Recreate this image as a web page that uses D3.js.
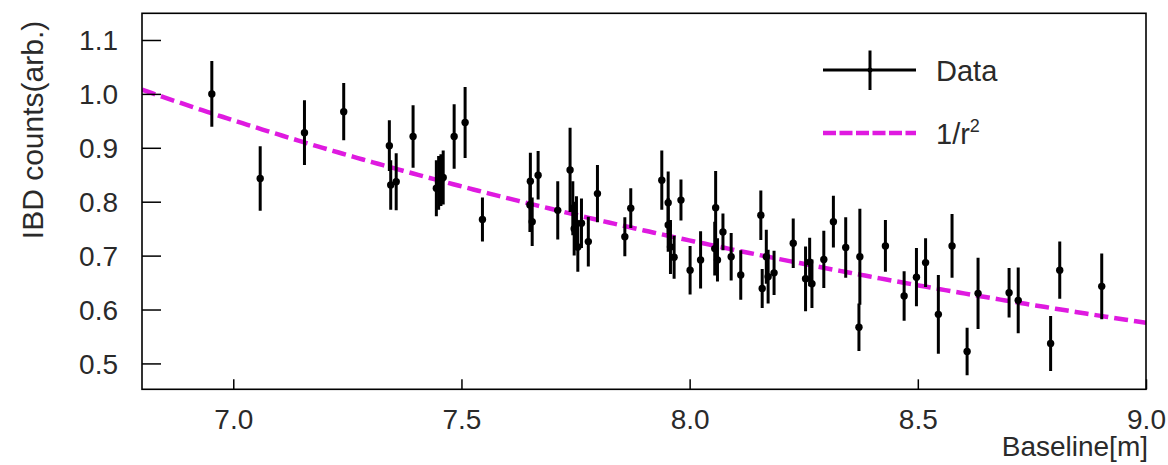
<!DOCTYPE html>
<html>
<head>
<meta charset="utf-8">
<script src="https://cdn.jsdelivr.net/npm/d3@7"></script>
<style>
  html, body { margin: 0; padding: 0; background: #fff; }
  svg { display: block; }
  text { font-family: "Liberation Sans", Arial, sans-serif; fill: #2a2a2a; }
</style>
</head>
<body>
<svg id="chart" width="1168" height="465"></svg>
<script>
// ---- data ----
const baseline = [6.953, 7.059, 7.156, 7.242, 7.342, 7.345, 7.357, 7.394, 7.445, 7.450, 7.455, 7.460,
  7.484, 7.508, 7.546, 7.651, 7.650, 7.655, 7.668, 7.711, 7.738, 7.744, 7.747, 7.755, 7.752, 7.763,
  7.778, 7.798, 7.858, 7.871, 7.939, 7.953, 7.953, 7.958, 7.966, 7.981, 8.001, 8.024, 8.057, 8.055,
  8.061, 8.073, 8.091, 8.112, 8.156, 8.159, 8.168, 8.172, 8.185, 8.227, 8.254, 8.263, 8.268, 8.294,
  8.315, 8.342, 8.373, 8.371, 8.429, 8.470, 8.497, 8.517, 8.545, 8.575, 8.608, 8.632, 8.700, 8.720,
  8.791, 8.811, 8.903];
const counts = [1.000, 0.843, 0.928, 0.967, 0.904, 0.831, 0.837, 0.921, 0.825, 0.835, 0.840, 0.845,
  0.921, 0.947, 0.767, 0.838, 0.794, 0.763, 0.849, 0.784, 0.859, 0.788, 0.750, 0.716, 0.760, 0.760,
  0.726, 0.815, 0.735, 0.788, 0.840, 0.798, 0.757, 0.716, 0.697, 0.803, 0.673, 0.692, 0.789, 0.713,
  0.692, 0.744, 0.698, 0.664, 0.775, 0.639, 0.698, 0.661, 0.668, 0.723, 0.657, 0.688, 0.648, 0.693,
  0.763, 0.715, 0.698, 0.567, 0.718, 0.625, 0.660, 0.687, 0.591, 0.718, 0.522, 0.630, 0.631, 0.617,
  0.537, 0.673, 0.643];
const errors = [0.061, 0.060, 0.060, 0.053, 0.047, 0.046, 0.053, 0.058, 0.052, 0.050, 0.048, 0.050,
  0.060, 0.066, 0.041, 0.053, 0.050, 0.045, 0.045, 0.054, 0.078, 0.050, 0.050, 0.046, 0.050, 0.046,
  0.046, 0.053, 0.036, 0.037, 0.055, 0.058, 0.050, 0.050, 0.040, 0.038, 0.045, 0.053, 0.068, 0.050,
  0.040, 0.034, 0.044, 0.046, 0.046, 0.036, 0.050, 0.050, 0.041, 0.046, 0.060, 0.045, 0.045, 0.053,
  0.048, 0.056, 0.089, 0.044, 0.048, 0.046, 0.054, 0.045, 0.073, 0.059, 0.044, 0.066, 0.046, 0.061,
  0.051, 0.053, 0.061];
const xTicks = [7.0, 7.5, 8.0, 8.5, 9.0];
const yTicks = [0.5, 0.6, 0.7, 0.8, 0.9, 1.0, 1.1];
const fitNorm = 46.6;          // 1/r^2 curve: counts = fitNorm / r^2
const legendLabels = ["Data", "1/r"];

// ---- layout ----
const svg = d3.select("#chart");
const pLeft = 142, pRight = 1146, pTop = 13.3, pBottom = 389.3;
const x = d3.scaleLinear().domain([6.8, 9.0]).range([pLeft, pRight]);
const y = d3.scaleLinear().domain([0.452, 1.1495]).range([pBottom, pTop]);
const magenta = "#df1ae0";

// clip
svg.append("clipPath").attr("id", "clip").append("rect")
  .attr("x", pLeft).attr("y", pTop).attr("width", pRight - pLeft).attr("height", pBottom - pTop);

// curve
const curveX = d3.range(0, 201).map(i => 6.8 + i * (2.2 / 200));
const line = d3.line().x(d => x(d)).y(d => y(fitNorm / (d * d)));
svg.append("path").datum(curveX)
  .attr("clip-path", "url(#clip)")
  .attr("d", line).attr("fill", "none")
  .attr("stroke", magenta).attr("stroke-width", 4.5)
  .attr("stroke-dasharray", "14,6");

// data
const pts = baseline.map((b, i) => ({ b, c: counts[i], e: errors[i] }));
const g = svg.append("g").attr("clip-path", "url(#clip)");
g.selectAll("line.err").data(pts).enter().append("line")
  .attr("x1", d => x(d.b)).attr("x2", d => x(d.b))
  .attr("y1", d => y(d.c + d.e)).attr("y2", d => y(d.c - d.e))
  .attr("stroke", "#000").attr("stroke-width", 3);
g.selectAll("circle").data(pts).enter().append("circle")
  .attr("cx", d => x(d.b)).attr("cy", d => y(d.c)).attr("r", 3.7).attr("fill", "#000");

// axes (ticks inside)
const yAxis = d3.axisLeft(y).tickValues(yTicks).tickFormat(d3.format(".1f"))
  .tickSizeInner(-19).tickSizeOuter(0).tickPadding(24);
const gy = svg.append("g").attr("transform", `translate(${pLeft},0)`).call(yAxis);
gy.select(".domain").remove();
gy.selectAll(".tick line").attr("stroke", "#000").attr("stroke-width", 1.5);
gy.selectAll(".tick text").attr("font-size", 28).attr("fill", "#2a2a2a").attr("dy", "0.35em");

const xAxis = d3.axisBottom(x).tickValues(xTicks).tickFormat(d3.format(".1f"))
  .tickSizeInner(-10).tickSizeOuter(0).tickPadding(20);
const gx = svg.append("g").attr("transform", `translate(0,${pBottom})`).call(xAxis);
gx.select(".domain").remove();
gx.selectAll(".tick line").attr("stroke", "#000").attr("stroke-width", 1.5);
gx.selectAll(".tick text").attr("font-size", 28).attr("fill", "#2a2a2a");

// frame
svg.append("rect").attr("x", pLeft).attr("y", pTop).attr("width", pRight - pLeft).attr("height", pBottom - pTop)
  .attr("fill", "none").attr("stroke", "#000").attr("stroke-width", 1.6);

// axis titles
svg.append("text").attr("x", pRight + 2).attr("y", 456).attr("text-anchor", "end")
  .attr("font-size", 28).text("Baseline[m]");
svg.append("text").attr("transform", `translate(43,130) rotate(-90)`).attr("text-anchor", "middle")
  .attr("font-size", 30).text("IBD counts(arb.)");

// legend
const lg = svg.append("g");
lg.append("line").attr("x1", 823).attr("x2", 916).attr("y1", 70).attr("y2", 70)
  .attr("stroke", "#000").attr("stroke-width", 3);
lg.append("line").attr("x1", 870).attr("x2", 870).attr("y1", 50.5).attr("y2", 90)
  .attr("stroke", "#000").attr("stroke-width", 3);
lg.append("circle").attr("cx", 870).attr("cy", 70).attr("r", 2.5).attr("fill", "#000");
lg.append("text").attr("x", 936).attr("y", 81).attr("font-size", 29).text(legendLabels[0]);
lg.append("line").attr("x1", 823).attr("x2", 916).attr("y1", 133).attr("y2", 133)
  .attr("stroke", magenta).attr("stroke-width", 4.5).attr("stroke-dasharray", "13,3.5");
const t2 = lg.append("text").attr("x", 936).attr("y", 144).attr("font-size", 29);
t2.append("tspan").text(legendLabels[1]);
t2.append("tspan").attr("font-size", 18).attr("dy", -12).text("2");
</script>
</body>
</html>
